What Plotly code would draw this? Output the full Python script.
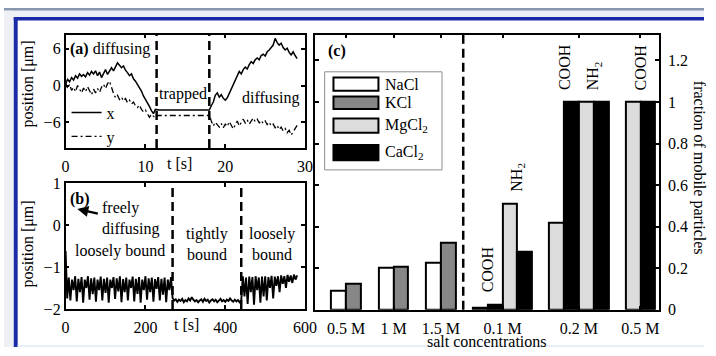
import numpy as np
import plotly.graph_objects as go

W, H = 716, 356
FONT = "Liberation Serif, Times New Roman, serif"


def px(x):
    return x / W


def py(y):
    return 1 - y / H


# ---------------- panel (a): trajectory, 0.25 s sampling ----------------
dt_a = 0.25
x_a = [0.3, 1.0, 0.6, 1.3, 0.9, 1.6, 1.2, 1.9, 1.5, 1.8, 1.4, 2.1, 1.7, 2.3, 1.9, 2.4,
       1.6, 2.2, 1.3, 1.9, 2.6, 1.8, 2.3, 2.9, 2.4, 3.1, 3.7, 3.3, 2.9, 3.2, 2.5, 2.1,
       1.6, 1.9, 1.1, 0.7, 0.2, -0.4, -0.9, -1.7, -2.2, -2.9, -3.4, -4.1, -4.6, -3.9, -4.0] \
    + [-4.0] * 26 \
    + [-3.3, -2.7, -1.6, -1.2, -1.9, -1.5, -2.1, -2.4, -2.0, -1.3, -0.6, 0.2, 0.9, 1.6,
       2.3, 1.9, 2.6, 3.0, 2.7, 3.4, 3.9, 3.6, 4.2, 4.5, 4.2, 4.9, 5.1, 4.8, 5.5, 5.8,
       6.3, 6.6, 7.7, 7.0, 6.6, 6.9, 6.2, 5.8, 6.1, 5.4, 5.0, 5.5, 4.9, 4.4]
y_a = [0.5, -0.5, 0.2, -0.8, -0.3, -1.0, 0.0, -0.6, -1.2, -0.4, -1.0, -0.2, -0.9, -1.5,
       -0.6, -1.2, -0.5, -1.1, -0.3, 0.2, -0.5, 0.3, 0.7, -0.4, -1.3, -2.0, -1.6, -2.3,
       -1.9, -2.5, -2.1, -2.8, -2.4, -3.0, -2.7, -3.3, -3.6, -3.2, -3.9, -4.3, -4.0,
       -4.6, -5.2, -4.7, -5.0, -5.3, -4.9] \
    + [-4.9] * 26 \
    + [-5.8, -6.6, -6.0, -6.4, -6.8, -6.2, -6.9, -6.3, -6.7, -5.9, -6.5, -7.1, -6.4,
       -5.8, -6.6, -6.0, -5.5, -6.1, -5.6, -6.3, -5.8, -5.3, -5.9, -5.5, -6.1, -5.7,
       -6.2, -5.8, -6.4, -6.0, -6.6, -6.3, -6.9, -6.5, -7.2, -6.8, -7.4, -7.0, -7.7,
       -7.3, -8.1, -7.6, -7.2, -6.5]
t_a = np.arange(len(x_a)) * dt_a
phase_bounds_a = [11.4, 18.0]

# ---------------- panel (b): long trajectory, 4 s sampling ----------------
dt_b = 4
pos_b = [-0.62, -1.75, -1.25, -1.8, -1.3, -1.55, -1.22, -1.82, -1.28, -1.6, -1.24, -1.85,
         -1.3, -1.5, -1.22, -1.78, -1.27, -1.65, -1.25, -1.83, -1.3, -1.55, -1.23, -1.8,
         -1.28, -1.62, -1.25, -1.85, -1.3, -1.5, -1.24, -1.76, -1.27, -1.58, -1.22, -1.84,
         -1.29, -1.6, -1.25, -1.8, -1.3, -1.5, -1.23, -1.82, -1.28, -1.64, -1.24, -1.85,
         -1.3, -1.55, -1.22, -1.78, -1.27, -1.6, -1.25, -1.83, -1.29, -1.52, -1.24, -1.8,
         -1.28, -1.66, -1.25, -1.84, -1.3, -1.55, -1.24,
         -1.74, -1.8, -1.77, -1.83, -1.78, -1.81, -1.76, -1.84, -1.79, -1.82, -1.75, -1.8,
         -1.72, -1.78, -1.82, -1.79, -1.84, -1.8, -1.77, -1.83, -1.76, -1.81, -1.78, -1.85,
         -1.8, -1.77, -1.82, -1.78, -1.84, -1.8, -1.76, -1.82, -1.79, -1.83, -1.78, -1.81,
         -1.75, -1.8, -1.83, -1.78, -1.82, -1.79, -1.84, -1.8,
         -1.22, -1.7, -1.25, -1.88, -1.23, -1.6, -1.24, -1.9, -1.22, -1.55, -1.25, -1.85,
         -1.23, -1.7, -1.22, -1.8, -1.24, -1.5, -1.21, -1.75, -1.23, -1.45, -1.22, -1.6,
         -1.2, -1.4, -1.22, -1.5, -1.19, -1.35, -1.2, -1.38, -1.18, -1.3, -1.2]
t_b = np.arange(len(pos_b)) * dt_b
phase_bounds_b = [268, 440]

# ---------------- panel (c): fraction of mobile particles ----------------
conc_left = ["0.5 M", "1 M", "1.5 M"]
nacl = [0.09, 0.205, 0.227]
kcl = [0.127, 0.21, 0.323]

conc_right = ["0.1 M", "0.2 M", "0.5 M"]
cooh_mgcl2 = [0.012, 0.42, 1.0]
cooh_cacl2 = [0.025, 1.0, 1.0]
nh2_mgcl2 = [0.51, 1.0, None]
nh2_cacl2 = [0.28, 1.0, None]

# group centres on the bar axis (unit = one bar width)
left_centres = [2.1, 5.3, 8.5]
right_centres = [12.65, 17.8, 22.95]
divider_c = 10.0

C_NACL, C_KCL, C_MG, C_CA = "white", "#878787", "#dcdcdc", "black"

fig = go.Figure()

# panel (a)
fig.add_trace(go.Scatter(x=t_a, y=x_a, mode="lines", name="x",
                         line=dict(color="black", width=1.5), xaxis="x", yaxis="y"))
fig.add_trace(go.Scatter(x=t_a, y=y_a, mode="lines", name="y",
                         line=dict(color="black", width=1.3, dash="6px,3px,2px,3px"),
                         xaxis="x", yaxis="y"))
# panel (b)
fig.add_trace(go.Scatter(x=t_b, y=pos_b, mode="lines", showlegend=False,
                         line=dict(color="black", width=1.9, simplify=False),
                         xaxis="x2", yaxis="y2"))

# panel (c) bars
bar_line = dict(color="black", width=2)


def add_bars(centres, offset, values, color):
    fig.add_trace(go.Bar(x=[c + offset for c in centres], y=values, width=1,
                         marker=dict(color=color, line=bar_line), showlegend=False,
                         xaxis="x3", yaxis="y3"))


add_bars(left_centres, -0.5, nacl, C_NACL)
add_bars(left_centres, 0.5, kcl, C_KCL)
add_bars(right_centres, -1.5, cooh_mgcl2, C_MG)
add_bars(right_centres, -0.5, cooh_cacl2, C_CA)
add_bars(right_centres, 0.5, nh2_mgcl2, C_MG)
add_bars(right_centres, 1.5, nh2_cacl2, C_CA)

tick_c = list(left_centres) + [c if nh is not None else c - 1
                               for c, nh in zip(right_centres, nh2_mgcl2)]
ticktext_c = conc_left + conc_right

axis_style = dict(showline=True, linecolor="black", linewidth=1.5, mirror="ticks",
                  ticks="inside", ticklen=4, tickwidth=1.5, tickcolor="black",
                  showgrid=False, zeroline=False,
                  tickfont=dict(family=FONT, size=16, color="black"))

dom_ab_x = [px(63), px(308)]
fig.update_layout(
    width=W, height=H, margin=dict(l=0, r=0, t=0, b=0),
    paper_bgcolor="white", plot_bgcolor="white",
    font=dict(family=FONT, size=16, color="black"),
    barmode="overlay", bargap=0,
    xaxis=dict(domain=dom_ab_x, anchor="y", range=[0, 30], tickvals=[0, 10, 20, 30],
               ticklabelstandoff=3, **axis_style),
    yaxis=dict(domain=[py(147), py(28)], anchor="x", range=[-10.2, 8.3], tickvals=[-6, 0, 6], **axis_style),
    xaxis2=dict(domain=dom_ab_x, anchor="y2", range=[0, 600], tickvals=[0, 200, 400, 600],
                ticklabelstandoff=3, **axis_style),
    yaxis2=dict(domain=[py(316), py(184)], anchor="x2", range=[-2, 1], tickvals=[-2, -1, 0, 1], **axis_style),
    xaxis3=dict(domain=[px(318), px(670)], anchor="y3", range=[0, 23.2], tickvals=tick_c,
                ticktext=ticktext_c, ticklabelstandoff=3, **axis_style),
    yaxis3=dict(domain=[py(317), py(28)], anchor="x3", side="right", range=[0, 1.324],
                tickvals=[0, 0.2, 0.4, 0.6, 0.8, 1, 1.2], ticklabelstandoff=4, **axis_style),
    legend=dict(x=px(64), y=py(92), xanchor="left", yanchor="top", bgcolor="rgba(0,0,0,0)",
                font=dict(family=FONT, size=16, color="black"), tracegroupgap=0,
                itemwidth=30),
    showlegend=True,
)

# dashed phase dividers
dash_line = dict(color="black", width=2.5, dash="9px,5px")
for t in phase_bounds_a:
    fig.add_shape(type="line", xref="x", yref="y domain", x0=t, x1=t, y0=0, y1=1, line=dash_line)
for t in phase_bounds_b:
    fig.add_shape(type="line", xref="x2", yref="y2 domain", x0=t, x1=t, y0=0, y1=1, line=dash_line)
fig.add_shape(type="line", xref="x3", yref="y3 domain", x0=divider_c, x1=divider_c, y0=0, y1=1,
              line=dash_line)

# page frame
frame = [
    (0, 0, W, 3, "#8797b0"),
    (0, 3, W, 9.5, "#eef0f5"),
    (0, 3, 10, H, "#eef0f5"),
    (10, 9.5, W, 13, "#1b2aa6"),
    (10, 9.5, 14, H, "#1b2aa6"),
    (14, 354, W, H, "#e7eef7"),
]
for x0, y0, x1, y1, c in frame:
    fig.add_shape(type="rect", xref="paper", yref="paper", x0=px(x0), x1=px(x1),
                  y0=py(y1), y1=py(y0), fillcolor=c, line=dict(width=0), layer="below")

# legend of panel (c)
fig.add_shape(type="rect", xref="paper", yref="paper", x0=px(328), x1=px(448), y0=py(170), y1=py(67),
              line=dict(color="#8c8c8c", width=1), fillcolor="white", layer="above")
leg_items = [("NaCl", C_NACL, 73, 87), ("KCl", C_KCL, 93, 106),
             ("MgCl<sub>2</sub>", C_MG, 116, 131), ("CaCl<sub>2</sub>", C_CA, 144, 160)]
for name, col, y0, y1 in leg_items:
    fig.add_shape(type="rect", xref="paper", yref="paper", x0=px(337), x1=px(383),
                  y0=py(y1), y1=py(y0), fillcolor=col, line=dict(color="black", width=2),
                  layer="above")
    fig.add_annotation(x=px(388), y=py((y0 + y1) / 2), xref="paper", yref="paper", text=name,
                       showarrow=False, xanchor="left", yanchor="middle",
                       font=dict(family=FONT, size=16, color="black"))


def note(text, x, y, xanchor="center", angle=0, size=16, align="center"):
    fig.add_annotation(x=px(x), y=py(y), xref="paper", yref="paper", text=text,
                       showarrow=False, xanchor=xanchor, yanchor="middle", textangle=angle,
                       align=align, borderpad=0,
                       font=dict(family=FONT, size=size, color="black"))


# panel (a) texts
note("<b>(a)</b> diffusing", 66, 43, "left")
note("trapped", 183, 90)
note("diffusing", 273, 95)
note("t [s]", 180, 163)
note("position [μm]", 25, 80, angle=-90)
# panel (b) texts
note("<b>(b)</b>", 66, 201, "left")
note("freely<br>diffusing", 99, 221, "left", align="left")
note("loosely bound", 119, 255)
note("tightly<br>bound", 208, 248)
note("loosely<br>bound", 274, 248)
note("t [s]", 187, 332)
note("position [μm]", 25, 248, angle=-90)
fig.add_annotation(x=px(75), y=py(211), xref="paper", yref="paper", ax=22, ay=5, text="",
                   showarrow=True, arrowhead=2, arrowsize=1, arrowwidth=2.2, arrowcolor="black")
# panel (c) texts
note("<b>(c)</b>", 330, 45, "left")
note("salt concentrations", 494, 350)
note("fraction of mobile particles", 711, 168, angle=90)

for c, mg, ca in zip(right_centres, cooh_mgcl2, cooh_cacl2):
    fig.add_annotation(x=c - 1, y=max(mg, ca), xref="x3", yref="y3", text="COOH",
                       showarrow=False, textangle=-90, xanchor="center", yanchor="bottom",
                       yshift=10, font=dict(family=FONT, size=16, color="black"))
for c, mg, ca in zip(right_centres, nh2_mgcl2, nh2_cacl2):
    if mg is None:
        continue
    fig.add_annotation(x=c + 1, y=max(mg, ca), xref="x3", yref="y3", text="NH<sub>2</sub>",
                       showarrow=False, textangle=-90, xanchor="center", yanchor="bottom",
                       yshift=10, font=dict(family=FONT, size=16, color="black"))

fig.write_html("out.html")
